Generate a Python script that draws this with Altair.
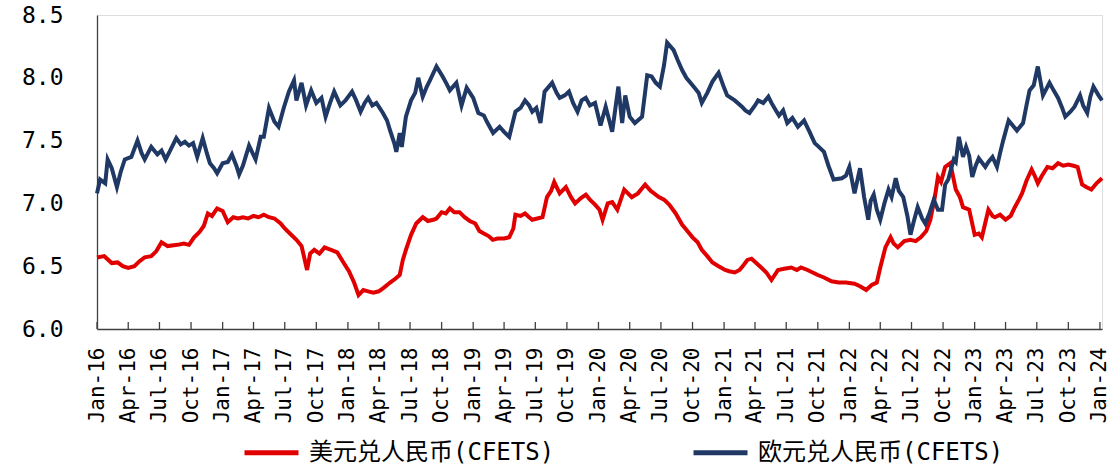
import altair as alt
import pandas as pd

USD_NAME = "美元兑人民币(CFETS)"
EUR_NAME = "欧元兑人民币(CFETS)"

usd_dates = [
    "2016-01-01","2016-01-22","2016-02-13","2016-03-01","2016-03-16","2016-04-01","2016-04-19","2016-05-04",
    "2016-05-19","2016-06-07","2016-06-22","2016-07-07","2016-07-25","2016-08-22","2016-09-10","2016-09-25",
    "2016-10-10","2016-10-25","2016-11-07","2016-11-19","2016-12-01","2016-12-16","2017-01-01","2017-01-16",
    "2017-02-01","2017-02-15","2017-03-01","2017-03-16","2017-04-01","2017-04-16","2017-05-01","2017-05-16",
    "2017-06-01","2017-06-19","2017-07-01","2017-07-16","2017-08-04","2017-08-19","2017-09-04","2017-09-13",
    "2017-09-25","2017-10-10","2017-10-25","2017-11-13","2017-12-01","2017-12-19","2018-01-04","2018-01-19",
    "2018-02-01","2018-02-15","2018-03-01","2018-03-16","2018-04-01","2018-04-16","2018-05-04","2018-05-19",
    "2018-06-01","2018-06-10","2018-06-19","2018-07-04","2018-07-19","2018-08-07","2018-08-22","2018-09-07",
    "2018-09-16","2018-10-01","2018-10-13","2018-10-25","2018-11-07","2018-11-22","2018-12-07","2018-12-22",
    "2019-01-07","2019-01-19","2019-02-01","2019-02-15","2019-02-27","2019-03-13","2019-04-01","2019-04-16",
    "2019-04-28","2019-05-04","2019-05-19","2019-06-01","2019-06-13","2019-06-22","2019-07-07","2019-07-22",
    "2019-08-04","2019-08-16","2019-08-25","2019-09-10","2019-09-28","2019-10-13","2019-10-25","2019-11-10",
    "2019-11-25","2019-12-07","2019-12-22","2020-01-04","2020-01-13","2020-01-28","2020-02-10","2020-02-25",
    "2020-03-16","2020-04-07","2020-04-25","2020-05-16","2020-06-01","2020-06-25","2020-07-10","2020-07-25",
    "2020-08-13","2020-09-01","2020-09-16","2020-10-01","2020-10-16","2020-10-28","2020-11-13","2020-11-28",
    "2020-12-16","2021-01-04","2021-01-16","2021-02-01","2021-02-15","2021-02-27","2021-03-10","2021-03-22",
    "2021-04-07","2021-04-19","2021-05-04","2021-05-19","2021-06-07","2021-06-25","2021-07-16","2021-08-01",
    "2021-08-13","2021-09-01","2021-09-16","2021-10-01","2021-10-19","2021-11-10","2021-12-01","2021-12-22",
    "2022-01-16","2022-02-01","2022-02-19","2022-03-07","2022-03-22","2022-04-01","2022-04-16","2022-05-01",
    "2022-05-10","2022-05-22","2022-06-10","2022-06-28","2022-07-13","2022-07-28","2022-08-13","2022-08-25",
    "2022-09-07","2022-09-16","2022-09-25","2022-10-07","2022-10-22","2022-11-07","2022-11-19","2022-11-28",
    "2022-12-16","2023-01-01","2023-01-13","2023-01-22","2023-02-10","2023-02-22","2023-03-01","2023-03-16",
    "2023-04-01","2023-04-16","2023-04-28","2023-05-10","2023-05-19","2023-06-01","2023-06-16","2023-06-25",
    "2023-07-04","2023-07-16","2023-08-01","2023-08-16","2023-09-01","2023-09-16","2023-10-01","2023-10-16",
    "2023-10-28","2023-11-10","2023-11-22","2023-12-07","2023-12-22","2024-01-07",
]
usd_values = [
    6.57, 6.58, 6.525, 6.53, 6.50, 6.486, 6.50, 6.54,
    6.57, 6.58, 6.62, 6.69, 6.66, 6.67, 6.68, 6.67,
    6.73, 6.77, 6.82, 6.92, 6.90, 6.96, 6.94, 6.85,
    6.89, 6.88, 6.89, 6.88, 6.90, 6.89, 6.91, 6.89,
    6.88, 6.84, 6.80, 6.76, 6.71, 6.66, 6.47, 6.60,
    6.63, 6.60, 6.65, 6.63, 6.61, 6.53, 6.46, 6.37,
    6.27, 6.31, 6.30, 6.29, 6.30, 6.33, 6.37, 6.40,
    6.43, 6.55, 6.63, 6.75, 6.84, 6.89, 6.86, 6.87,
    6.88, 6.93, 6.92, 6.96, 6.93, 6.93, 6.89, 6.86,
    6.84, 6.78, 6.76, 6.74, 6.71, 6.72, 6.72, 6.73,
    6.80, 6.91, 6.90, 6.92, 6.89, 6.87, 6.88, 6.89,
    7.05, 7.10, 7.17, 7.08, 7.13, 7.05, 7.00, 7.04,
    7.07, 7.03, 6.99, 6.95, 6.87, 7.00, 7.01, 6.95,
    7.11, 7.05, 7.08, 7.15, 7.10, 7.05, 7.03, 6.99,
    6.92, 6.83, 6.78, 6.73, 6.69, 6.63, 6.58, 6.53,
    6.50, 6.47, 6.46, 6.45, 6.47, 6.51, 6.55, 6.56,
    6.52, 6.49, 6.45, 6.39, 6.47, 6.48, 6.49, 6.47,
    6.49, 6.47, 6.45, 6.43, 6.41, 6.38, 6.37, 6.37,
    6.36, 6.34, 6.31, 6.35, 6.37, 6.49, 6.65, 6.73,
    6.68, 6.65, 6.70, 6.71, 6.70, 6.73, 6.78, 6.87,
    7.05, 7.21, 7.17, 7.29, 7.32, 7.11, 7.05, 6.97,
    6.95, 6.75, 6.76, 6.73, 6.95, 6.90, 6.89, 6.91,
    6.87, 6.90, 6.97, 7.03, 7.08, 7.18, 7.27, 7.22,
    7.16, 7.22, 7.29, 7.28, 7.32, 7.30, 7.31, 7.30,
    7.29, 7.15, 7.13, 7.11, 7.16, 7.20,
]

eur_dates = [
    "2016-01-01","2016-01-10","2016-01-25","2016-02-01","2016-02-13","2016-02-28","2016-03-10","2016-03-22",
    "2016-04-10","2016-04-28","2016-05-10","2016-05-19","2016-06-07","2016-06-25","2016-07-07","2016-07-19",
    "2016-08-01","2016-08-19","2016-09-01","2016-09-13","2016-09-25","2016-10-07","2016-10-19","2016-11-04",
    "2016-11-16","2016-11-25","2016-12-07","2016-12-16","2017-01-01","2017-01-16","2017-01-28","2017-02-10",
    "2017-02-18","2017-03-01","2017-03-19","2017-04-07","2017-04-22","2017-05-01","2017-05-16","2017-06-01",
    "2017-06-13","2017-06-28","2017-07-13","2017-07-28","2017-08-04","2017-08-19","2017-09-01","2017-09-16",
    "2017-10-01","2017-10-16","2017-10-28","2017-11-10","2017-11-22","2017-12-10","2017-12-25","2018-01-13",
    "2018-01-25","2018-02-07","2018-02-19","2018-03-01","2018-03-13","2018-03-25","2018-04-13","2018-04-25",
    "2018-05-04","2018-05-16","2018-05-22","2018-06-01","2018-06-07","2018-06-19","2018-07-04","2018-07-16",
    "2018-07-25","2018-08-07","2018-08-19","2018-08-28","2018-09-16","2018-10-04","2018-10-16","2018-10-25",
    "2018-11-13","2018-11-28","2018-12-13","2019-01-01","2019-01-16","2019-02-01","2019-02-10","2019-02-28",
    "2019-03-19","2019-04-01","2019-04-16","2019-05-04","2019-05-19","2019-06-01","2019-06-13","2019-06-22",
    "2019-07-04","2019-07-16","2019-07-28","2019-08-19","2019-09-01","2019-09-10","2019-09-25","2019-10-07",
    "2019-10-19","2019-11-01","2019-11-13","2019-11-25","2019-12-07","2019-12-22","2020-01-07","2020-01-22",
    "2020-02-10","2020-02-28","2020-03-10","2020-03-19","2020-04-01","2020-04-16","2020-05-07","2020-05-22",
    "2020-06-04","2020-06-16","2020-06-28","2020-07-10","2020-07-19","2020-08-07","2020-08-19","2020-09-01",
    "2020-09-13","2020-09-25","2020-10-07","2020-10-19","2020-10-28","2020-11-13","2020-11-28","2020-12-16",
    "2021-01-01","2021-01-10","2021-02-01","2021-02-22","2021-03-04","2021-03-16","2021-04-01","2021-04-10",
    "2021-04-25","2021-05-10","2021-05-19","2021-06-01","2021-06-10","2021-06-22","2021-07-04","2021-07-19",
    "2021-08-04","2021-08-22","2021-09-07","2021-09-22","2021-10-04","2021-10-19","2021-11-01","2021-11-16",
    "2021-12-10","2021-12-22","2022-01-01","2022-01-16","2022-02-01","2022-02-13","2022-02-25","2022-03-04",
    "2022-03-13","2022-03-22","2022-04-01","2022-04-13","2022-04-25","2022-05-04","2022-05-16","2022-05-25",
    "2022-06-07","2022-06-19","2022-06-28","2022-07-07","2022-07-19","2022-08-01","2022-08-10","2022-08-22",
    "2022-09-04","2022-09-16","2022-09-28","2022-10-07","2022-10-16","2022-11-01","2022-11-07","2022-11-16",
    "2022-11-28","2022-12-07","2022-12-16","2022-12-25","2023-01-04","2023-01-13","2023-02-01","2023-02-10",
    "2023-02-22","2023-03-07","2023-03-16","2023-03-25","2023-04-10","2023-04-22","2023-05-04","2023-05-22",
    "2023-06-01","2023-06-10","2023-06-22","2023-07-04","2023-07-19","2023-08-07","2023-08-19","2023-09-01",
    "2023-09-13","2023-09-22","2023-10-07","2023-10-19","2023-11-04","2023-11-13","2023-11-25","2023-12-04",
    "2023-12-13","2023-12-28","2024-01-07",
]
eur_values = [
    7.08, 7.19, 7.16, 7.35, 7.28, 7.13, 7.25, 7.35,
    7.37, 7.50, 7.40, 7.35, 7.45, 7.39, 7.42, 7.35,
    7.42, 7.52, 7.47, 7.49, 7.46, 7.48, 7.37, 7.52,
    7.40, 7.32, 7.28, 7.24, 7.32, 7.33, 7.39, 7.30,
    7.23, 7.30, 7.46, 7.35, 7.53, 7.53, 7.76, 7.65,
    7.61, 7.76, 7.89, 7.98, 7.82, 7.96, 7.78, 7.90,
    7.80, 7.84, 7.69, 7.80, 7.89, 7.78, 7.82, 7.89,
    7.82, 7.73, 7.80, 7.84, 7.78, 7.80, 7.72, 7.66,
    7.58, 7.48, 7.41, 7.56, 7.45, 7.69, 7.82, 7.88,
    8.00, 7.85, 7.93, 7.98, 8.09, 8.01, 7.95, 7.90,
    7.96, 7.78, 7.92, 7.84, 7.72, 7.70, 7.65, 7.56,
    7.61, 7.57, 7.53, 7.73, 7.76, 7.82, 7.78, 7.73,
    7.76, 7.64, 7.89, 7.96, 7.88, 7.84, 7.86, 7.89,
    7.80, 7.73, 7.82, 7.84, 7.78, 7.80, 7.62, 7.77,
    7.57, 7.93, 7.64, 7.86, 7.69, 7.64, 7.69, 8.02,
    8.01, 7.96, 7.93, 8.10, 8.28, 8.22, 8.14, 8.06,
    8.00, 7.96, 7.92, 7.88, 7.80, 7.88, 7.97, 8.04,
    7.92, 7.86, 7.82, 7.77, 7.74, 7.72, 7.78, 7.82,
    7.80, 7.85, 7.80, 7.74, 7.70, 7.74, 7.64, 7.68,
    7.61, 7.66, 7.57, 7.48, 7.45, 7.41, 7.30, 7.19,
    7.20, 7.22, 7.29, 7.08, 7.28, 7.05, 6.87, 7.02,
    7.07, 6.95, 6.87, 7.00, 7.11, 7.05, 7.20, 7.10,
    7.05, 6.90, 6.75, 6.85, 6.97, 6.88, 6.84, 6.92,
    7.03, 6.95, 6.95, 7.15, 7.19, 7.35, 7.33, 7.53,
    7.37, 7.45, 7.38, 7.21, 7.30, 7.36, 7.29, 7.33,
    7.37, 7.29, 7.40, 7.50, 7.66, 7.62, 7.58, 7.64,
    7.78, 7.90, 7.94, 8.09, 7.86, 7.96, 7.90, 7.84,
    7.76, 7.69, 7.73, 7.77, 7.86, 7.78, 7.72, 7.85,
    7.93, 7.86, 7.82,
]

tick_dates = [f"{y}-{m:02d}-01" for y in range(2016, 2024) for m in (1, 4, 7, 10)] + ["2024-01-01"]
x_domain = ["2016-01-01", "2024-01-07"]
y_domain = [6.0, 8.5]
y_ticks = [6.0, 6.5, 7.0, 7.5, 8.0, 8.5]

RED = "#E10000"
BLUE = "#1F3864"
AXIS = "#404040"
FONT = "DejaVu Sans Mono, Noto Sans CJK SC"

usd_df = pd.DataFrame({"date": usd_dates, "value": usd_values, "series": USD_NAME})
eur_df = pd.DataFrame({"date": eur_dates, "value": eur_values, "series": EUR_NAME})
tick_df = pd.DataFrame({"date": tick_dates})

W, H = 1005, 314

x_scale = alt.Scale(domain=x_domain)
y_scale = alt.Scale(domain=y_domain, nice=False, zero=False)
color_scale = alt.Scale(domain=[USD_NAME, EUR_NAME], range=[RED, BLUE])

x_axis = alt.Axis(
    values=tick_dates,
    labelExpr="timeFormat(datum.value, '%b-%y')",
    labelAngle=270,
    labelFont=FONT,
    labelFontSize=21,
    labelColor="#000000",
    labelPadding=18,
    labelOverlap=False,
    labelBound=False,
    labelFlush=False,
    ticks=False,
    grid=False,
    domainColor=AXIS,
    domainWidth=1.3,
    title=None,
)
y_axis = alt.Axis(
    values=y_ticks,
    format=".1f",
    labelFont=FONT,
    labelFontSize=23,
    labelColor="#000000",
    labelPadding=34,
    ticks=False,
    grid=False,
    domainColor=AXIS,
    domainWidth=1.3,
    title=None,
)

legend = alt.Legend(
    title=None,
    orient="none",
    direction="horizontal",
    legendX=145,
    legendY=408,
    symbolType="stroke",
    symbolSize=2916,
    symbolStrokeWidth=5,
    labelFont=FONT,
    labelFontSize=24,
    labelColor="#000000",
    labelOffset=8,
    labelLimit=400,
    columnPadding=128,
)

def line_layer(df):
    return alt.Chart(df).mark_line(strokeWidth=4, interpolate="linear").encode(
        x=alt.X("date:T", scale=x_scale, axis=x_axis),
        y=alt.Y("value:Q", scale=y_scale, axis=y_axis),
        color=alt.Color("series:N", scale=color_scale, legend=legend),
    )

ticks = alt.Chart(tick_df).mark_rule(color=AXIS, strokeWidth=1.3).encode(
    x=alt.X("date:T", scale=x_scale, axis=x_axis),
    y=alt.value(H),
    y2=alt.value(H - 7),
)

chart = alt.layer(ticks, line_layer(usd_df), line_layer(eur_df)).properties(
    width=W,
    height=H,
    autosize=alt.AutoSizeParams(type="none"),
    padding={"left": 97, "top": 15, "right": 7, "bottom": 141},
).configure_view(stroke=None).configure(background="white")

chart.save("out.html", embed_options={"renderer": "svg", "actions": False})
